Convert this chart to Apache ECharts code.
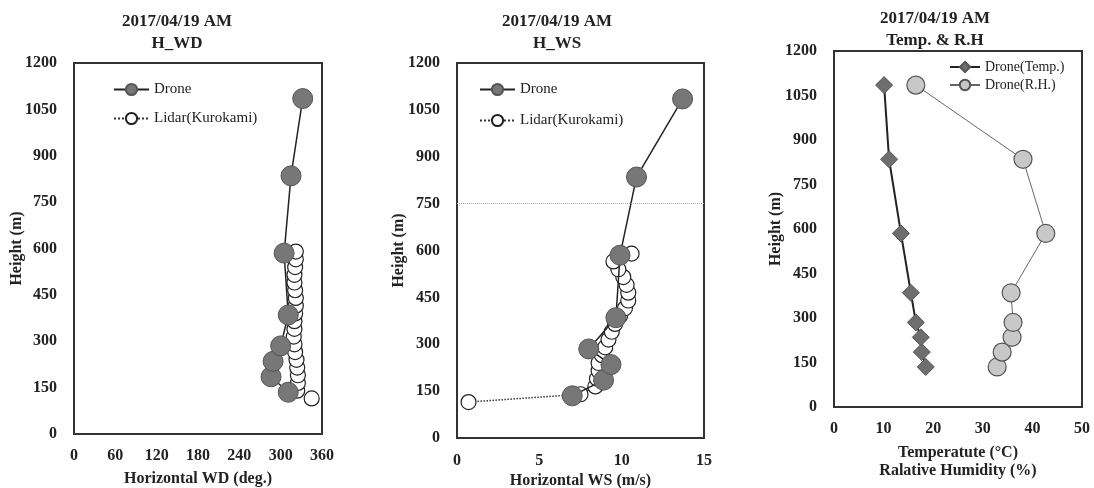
<!DOCTYPE html>
<html>
<head>
<meta charset="utf-8">
<script src="https://cdn.jsdelivr.net/npm/echarts@6/dist/echarts.min.js"></script>
<style>
  html, body { margin: 0; padding: 0; background: #fff; }
  #chart { width: 1094px; height: 488px; }
</style>
</head>
<body>
<div id="chart"></div>
<script>
// drone profile (heights in m)
const droneHeight = [135, 185, 235, 285, 385, 585, 835, 1085];
const droneWD = [311, 286, 289, 300, 311, 305, 315, 332];
const droneWS = [7.0, 8.9, 9.35, 8.0, 9.65, 9.9, 10.9, 13.7];
const droneTemp = [18.5, 17.7, 17.5, 16.5, 15.5, 13.5, 11.1, 10.1];
const droneRH = [32.9, 33.9, 35.9, 36.1, 35.7, 42.7, 38.1, 16.5];

// lidar (Kurokami)
const lidarHeight = [115, 140, 165, 190, 215, 240, 265, 290, 315, 340, 365, 390, 415, 440, 465, 490, 515, 540, 565, 590];
const lidarWD = [345, 324, 325, 325, 324, 323, 321, 320, 319, 320, 320, 321, 322, 322, 321, 320, 320, 321, 322, 322];
const lidarWS = [0.7, 7.5, 8.4, 8.5, 8.6, 8.6, 8.8, 9.0, 9.2, 9.4, 9.6, 9.9, 10.2, 10.4, 10.4, 10.3, 10.1, 9.8, 9.5, 10.6];

const panelTitles = ['2017/04/19 AM\nH_WD', '2017/04/19 AM\nH_WS', '2017/04/19 AM\nTemp. & R.H'];
const xNames = ['Horizontal WD (deg.)', 'Horizontal WS (m/s)', 'Temperatute (°C)\nRalative Humidity (%)'];

const serif = 'Liberation Serif';
const zip = (xs, ys) => xs.map((x, i) => [x, ys[i]]);

let chart = echarts.init(document.getElementById('chart'));

const boldText = { fontFamily: serif, fontWeight: 'bold', fontSize: 16, color: '#222' };

function yAxisFor(i, gap) {
    return {
        gridIndex: i, type: 'value', min: 0, max: 1200, interval: 150,
        name: 'Height (m)', nameLocation: 'middle', nameGap: gap, nameMoveOverlap: false,
        nameTextStyle: boldText,
        axisLine: { show: false }, axisTick: { show: false }, splitLine: { show: false },
        axisLabel: Object.assign({ margin: 17, formatter: v => String(v) }, boldText)
    };
}

function xAxisFor(i, max, interval, margin, gap) {
    return {
        gridIndex: i, type: 'value', min: 0, max: max, interval: interval,
        name: xNames[i], nameLocation: 'middle', nameGap: gap, nameMoveOverlap: false,
        nameTextStyle: Object.assign({ lineHeight: 18 }, boldText),
        axisLine: { show: false }, axisTick: { show: false }, splitLine: { show: false },
        axisLabel: Object.assign({ margin: margin }, boldText)
    };
}

const gridBox = { show: true, borderColor: '#333', borderWidth: 2, backgroundColor: '#fff', outerBoundsMode: 'none', containLabel: false };

const droneStyle = {
    type: 'line', symbol: 'circle', symbolSize: 20,
    itemStyle: { color: '#777', borderColor: '#555', borderWidth: 1 },
    lineStyle: { color: '#222', width: 1.5 }, z: 4
};
const lidarStyle = {
    type: 'line', symbol: 'circle', symbolSize: 15,
    itemStyle: { color: '#fff', borderColor: '#222', borderWidth: 1.2 },
    lineStyle: { color: '#333', width: 1.5, type: 'dotted' }, z: 3
};

const legendText = { fontFamily: serif, fontSize: 15, color: '#222' };

const option = {
    animation: false,
    title: panelTitles.map((t, i) => ({
        text: t, left: [172, 552, 930][i], top: [6, 6, 3][i], textAlign: 'center',
        textStyle: { fontFamily: serif, fontWeight: 'bold', fontSize: 17, lineHeight: 22, color: '#222' }
    })),
    grid: [
        Object.assign({ left: 74, top: 63, width: 248, height: 371 }, gridBox),
        Object.assign({ left: 457, top: 63, width: 247, height: 375 }, gridBox),
        Object.assign({ left: 834, top: 51, width: 248, height: 356 }, gridBox)
    ],
    legend: [
        { left: 108, top: 77, orient: 'vertical', itemGap: 14, itemWidth: 35, itemHeight: 14, textStyle: legendText, data: ['Drone', 'Lidar(Kurokami)'] },
        { left: 474, top: 77, orient: 'vertical', itemGap: 16, itemWidth: 35, itemHeight: 14, textStyle: legendText, data: ['Drone', 'Lidar(Kurokami)'] },
        { left: 944, top: 55, orient: 'vertical', itemGap: 4, itemWidth: 30, itemHeight: 13, textStyle: Object.assign({}, legendText, { fontSize: 14 }), data: ['Drone(Temp.)', 'Drone(R.H.)'] }
    ],
    xAxis: [xAxisFor(0, 360, 60, 14, 36), xAxisFor(1, 15, 5, 15, 34), xAxisFor(2, 50, 10, 14, 37)],
    yAxis: [yAxisFor(0, 49), yAxisFor(1, 50), yAxisFor(2, 50)],
    series: [
        Object.assign({ name: 'Lidar(Kurokami)', xAxisIndex: 0, yAxisIndex: 0, data: zip(lidarWD, lidarHeight) }, lidarStyle),
        Object.assign({ name: 'Drone', xAxisIndex: 0, yAxisIndex: 0, data: zip(droneWD, droneHeight) }, droneStyle),
        Object.assign({
            name: 'Lidar(Kurokami)', xAxisIndex: 1, yAxisIndex: 1, data: zip(lidarWS, lidarHeight),
            markLine: { silent: true, symbol: 'none', label: { show: false }, lineStyle: { color: '#aaa', type: 'dotted', width: 1 }, data: [{ yAxis: 750 }] }
        }, lidarStyle),
        Object.assign({ name: 'Drone', xAxisIndex: 1, yAxisIndex: 1, data: zip(droneWS, droneHeight) }, droneStyle),
        {
            name: 'Drone(Temp.)', type: 'line', xAxisIndex: 2, yAxisIndex: 2, data: zip(droneTemp, droneHeight),
            symbol: 'diamond', symbolSize: 17,
            itemStyle: { color: '#6e6e6e', borderColor: '#555', borderWidth: 1 },
            lineStyle: { color: '#222', width: 2 }, z: 4
        },
        {
            name: 'Drone(R.H.)', type: 'line', xAxisIndex: 2, yAxisIndex: 2, data: zip(droneRH, droneHeight),
            symbol: 'circle', symbolSize: 18,
            itemStyle: { color: '#c8c8c8', borderColor: '#555', borderWidth: 1.2 },
            lineStyle: { color: '#666', width: 1 }, z: 3
        }
    ]
};

chart.setOption(option);
</script>
</body>
</html>
